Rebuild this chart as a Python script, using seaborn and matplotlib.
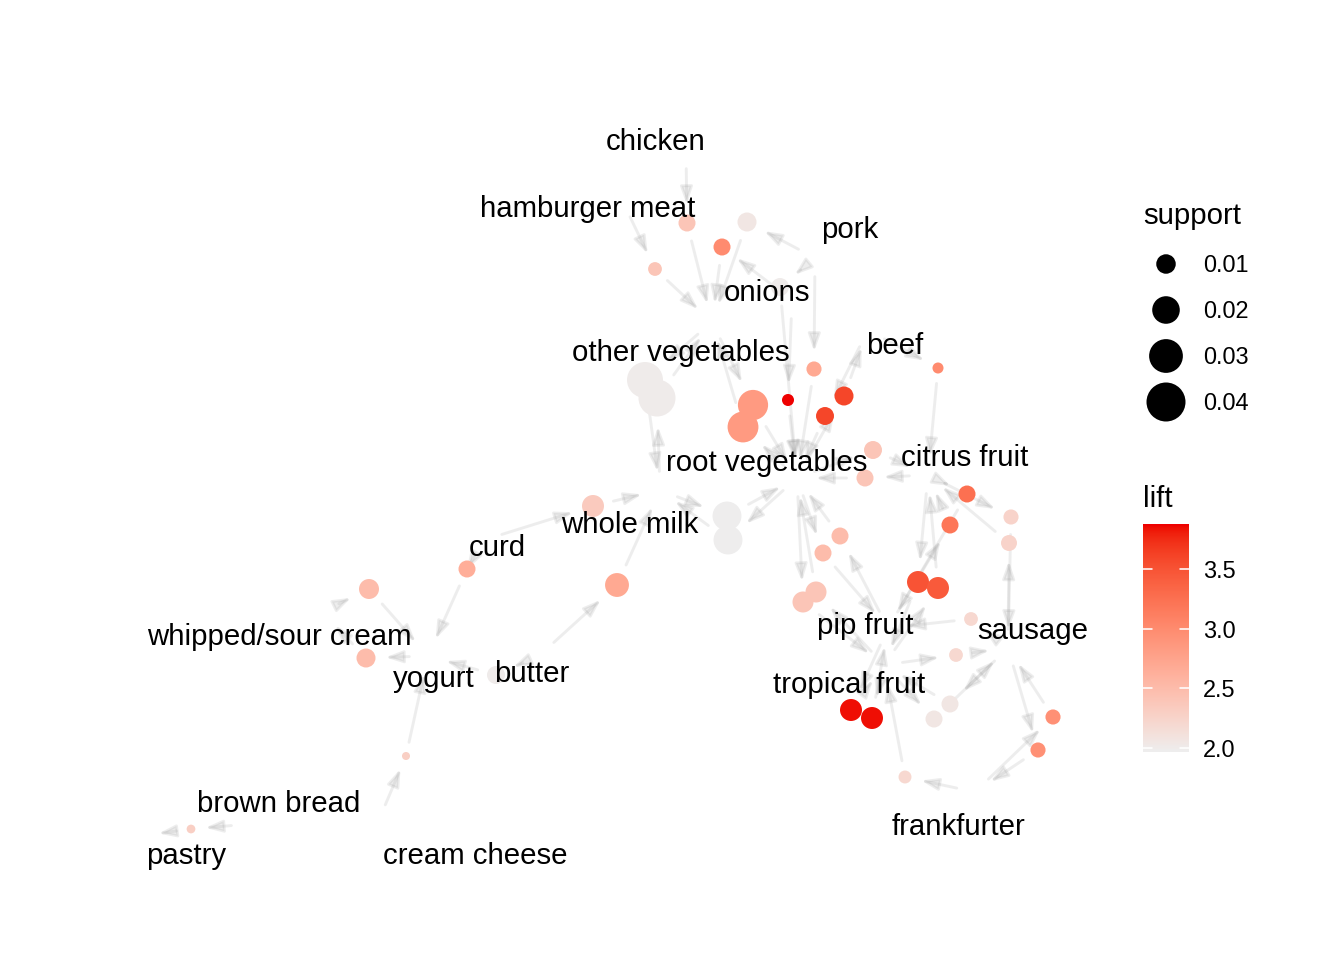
import numpy as np
import pandas as pd
import matplotlib
matplotlib.use("Agg")
import matplotlib.pyplot as plt
import seaborn as sns
from matplotlib.patches import FancyArrowPatch, ArrowStyle
from matplotlib.colors import ListedColormap, Normalize

# ---------------- data ----------------
item_names = ["chicken", "hamburger meat", "pork", "onions", "other vegetables",
              "beef", "root vegetables", "citrus fruit", "whole milk", "curd",
              "whipped/sour cream", "yogurt", "butter", "brown bread", "pastry",
              "cream cheese", "pip fruit", "tropical fruit", "sausage", "frankfurter"]
# graph layout of item nodes
item_x = [686, 622, 815, 792, 712, 868, 797, 928, 660, 484, 322, 428, 540, 250, 140, 378, 888, 884, 1008, 975]
item_y = [150, 200, 258, 300, 322, 330, 478, 475, 490, 540, 612, 656, 655, 824, 836, 822, 628, 665, 648, 792]
# repelled label layout
label_x = [656, 588, 850, 767, 681, 895, 767, 965, 630, 497, 279, 434, 532, 279, 186, 475, 865, 849, 1033, 958]
label_y = [142, 209, 230, 293, 353, 346, 463, 458, 525, 548, 637, 679, 674, 804, 856, 856, 626, 685, 631, 827]

# rule nodes: layout, support, lift, lhs -> rhs
rule_x = [687, 747, 722, 655, 780, 645, 657, 753, 743, 788, 814, 844, 825, 938, 873,
          865, 593, 727, 728, 467, 369, 366, 617, 496, 406, 191, 967, 950, 1011, 1009,
          840, 823, 816, 803, 918, 938, 971, 956, 851, 872, 950, 934, 1053, 1038, 905]
rule_y = [223, 222, 247, 269, 287, 380, 398, 405, 427, 400, 369, 396, 416, 368, 450,
          478, 506, 516, 540, 569, 589, 658, 585, 675, 756, 829, 494, 525, 517, 543,
          536, 553, 592, 602, 582, 588, 619, 655, 710, 718, 704, 719, 717, 750, 777]
rule_support = [0.0076, 0.0095, 0.0076, 0.0050, 0.0085, 0.0340, 0.0360, 0.0240, 0.0250, 0.0038,
                0.0060, 0.0095, 0.0085, 0.0032, 0.0085, 0.0076, 0.0127, 0.0220, 0.0220, 0.0076,
                0.0105, 0.0095, 0.0150, 0.0085, 0.0017, 0.0020, 0.0076, 0.0076, 0.0060, 0.0067,
                0.0076, 0.0076, 0.0116, 0.0116, 0.0127, 0.0127, 0.0050, 0.0050, 0.0127, 0.0127,
                0.0076, 0.0076, 0.0060, 0.0060, 0.0044]
rule_lift = [2.40, 2.05, 3.00, 2.40, 2.00, 2.00, 2.00, 2.85, 2.85, 3.88,
             2.70, 3.60, 3.60, 3.00, 2.40, 2.40, 2.35, 1.98, 1.98, 2.65,
             2.50, 2.50, 2.70, 2.00, 2.30, 2.30, 3.25, 3.20, 2.25, 2.25,
             2.50, 2.50, 2.40, 2.40, 3.50, 3.45, 2.20, 2.20, 3.85, 3.85,
             2.05, 2.05, 2.95, 2.95, 2.20]
rule_lhs = ["chicken", "pork", "onions", "hamburger meat", "pork", "other vegetables", "whole milk",
            "other vegetables", "root vegetables", "onions", "pork", "root vegetables", "beef", "beef",
            "root vegetables", "citrus fruit", "curd", "whole milk", "root vegetables", "curd",
            "whipped/sour cream", "yogurt", "butter", "butter", "cream cheese", "brown bread",
            "citrus fruit", "pip fruit", "citrus fruit", "sausage", "pip fruit", "root vegetables",
            "tropical fruit", "root vegetables", "citrus fruit", "tropical fruit", "sausage",
            "tropical fruit", "pip fruit", "tropical fruit", "sausage", "tropical fruit",
            "frankfurter", "sausage", "frankfurter"]
rule_rhs = ["other vegetables", "other vegetables", "other vegetables", "other vegetables",
            "root vegetables", "whole milk", "other vegetables", "root vegetables", "other vegetables",
            "root vegetables", "root vegetables", "beef", "root vegetables", "citrus fruit",
            "citrus fruit", "root vegetables", "whole milk", "root vegetables", "whole milk", "yogurt",
            "yogurt", "whipped/sour cream", "whole milk", "yogurt", "yogurt", "pastry", "pip fruit",
            "citrus fruit", "sausage", "citrus fruit", "root vegetables", "pip fruit",
            "root vegetables", "tropical fruit", "tropical fruit", "citrus fruit", "pip fruit",
            "sausage", "tropical fruit", "pip fruit", "tropical fruit", "sausage", "sausage",
            "frankfurter", "tropical fruit"]

support_breaks = [0.01, 0.02, 0.03, 0.04]
lift_breaks = [2.0, 2.5, 3.0, 3.5]
lift_limits = (1.966, 3.877)

# ---------------- colour scale (Lab interpolation like ggplot) ----------------
_M = np.array([[0.4124, 0.3576, 0.1805], [0.2126, 0.7152, 0.0722], [0.0193, 0.1192, 0.9505]])
_W = np.array([0.95047, 1.0, 1.08883])

def _to_lab(rgb):
    c = np.asarray(rgb, float)
    c = np.where(c <= 0.04045, c / 12.92, ((c + 0.055) / 1.055) ** 2.4)
    xyz = _M @ c / _W
    f = np.where(xyz > 0.008856, np.cbrt(xyz), 7.787 * xyz + 16 / 116)
    return np.array([116 * f[1] - 16, 500 * (f[0] - f[1]), 200 * (f[1] - f[2])])

def _from_lab(lab):
    L, a, b = lab
    fy = (L + 16) / 116
    f = np.array([fy + a / 500, fy, fy - b / 200])
    xyz = np.where(f ** 3 > 0.008856, f ** 3, (f - 16 / 116) / 7.787) * _W
    c = np.clip(np.linalg.inv(_M) @ xyz, 0, 1)
    c = np.where(c <= 0.0031308, 12.92 * c, 1.055 * np.power(c, 1 / 2.4) - 0.055)
    return np.clip(c, 0, 1)

lo_lab = _to_lab(np.array([0xEE, 0xEE, 0xEE]) / 255)
hi_lab = _to_lab(np.array([0xEE, 0x00, 0x00]) / 255)
cmap = ListedColormap([_from_lab(lo_lab + t * (hi_lab - lo_lab)) for t in np.linspace(0, 1, 256)])
lift_norm = Normalize(*lift_limits)

# ---------------- figure ----------------
sns.set_theme(style="white")
plt.rcParams["font.family"] = ["Liberation Sans", "DejaVu Sans"]
plt.rcParams["text.color"] = "black"

DPI = 192
fig = plt.figure(figsize=(7, 5), dpi=DPI)
ax = fig.add_axes([0, 0, 1, 1])
ax.set_xlim(0, 1344)
ax.set_ylim(960, 0)
ax.axis("off")

S_PER_SUPPORT = 5348.0   # marker area (pt^2) per unit support
def diam_px(s):
    return np.sqrt(S_PER_SUPPORT * s) * DPI / 72

item_pos = {n: (x, y) for n, x, y in zip(item_names, item_x, item_y)}
style = ArrowStyle("-|>", head_length=5.4, head_width=1.9)
ITEM_GAP = 7.0
def add_edge(a, b, sa, sb):
    p = FancyArrowPatch(a, b, arrowstyle=style, mutation_scale=1, shrinkA=sa, shrinkB=sb,
                        lw=1.1, color="#9a9a9a", alpha=0.17, zorder=1)
    ax.add_patch(p)

for i in range(len(rule_x)):
    rp = (rule_x[i], rule_y[i])
    rgap = (diam_px(rule_support[i]) / 2 + 10) * 72 / DPI
    add_edge(item_pos[rule_lhs[i]], rp, ITEM_GAP, rgap)
    add_edge(rp, item_pos[rule_rhs[i]], rgap, ITEM_GAP)

rules = pd.DataFrame({"x": rule_x, "y": rule_y, "support": rule_support, "lift": rule_lift})
sns.scatterplot(data=rules, x="x", y="y", hue="lift", size="support", palette=cmap,
                hue_norm=lift_norm, sizes=(0, S_PER_SUPPORT * 0.04), size_norm=(0, 0.04),
                linewidth=0, legend=False, ax=ax, zorder=3)
ax.set_xlabel("")
ax.set_ylabel("")

for n, x, y in zip(item_names, label_x, label_y):
    ax.text(x, y, n, fontsize=11, ha="center", va="center", color="black", zorder=4)

# ---------------- legends ----------------
ax.text(1143, 216, "support", fontsize=11, ha="left", va="center", color="black")
leg_y = [264, 310, 356, 402]
ax.scatter([1166] * 4, leg_y, s=[S_PER_SUPPORT * v for v in support_breaks], color="black",
           linewidths=0, zorder=3)
for v, y in zip(support_breaks, leg_y):
    ax.text(1203, y + 1, f"{v:.2f}", fontsize=8.8, ha="left", va="center", color="black")

ax.text(1143, 499, "lift", fontsize=11, ha="left", va="center", color="black")
cax = fig.add_axes([1143 / 1344, (960 - 752) / 960, 46 / 1344, 228 / 960])
grad = np.linspace(lift_limits[0], lift_limits[1], 300).reshape(-1, 1)
cax.imshow(grad, aspect="auto", cmap=cmap, norm=lift_norm, origin="lower",
           extent=[0, 1, lift_limits[0], lift_limits[1]])
for v in lift_breaks:
    cax.plot([0, 0.2], [v, v], color="white", lw=0.6)
    cax.plot([0.8, 1], [v, v], color="white", lw=0.6)
cax.set_xlim(0, 1)
cax.set_ylim(*lift_limits)
cax.set_xticks([])
cax.set_yticks(lift_breaks)
cax.set_yticklabels([f"{v:.1f}" for v in lift_breaks])
cax.yaxis.tick_right()
cax.tick_params(axis="y", length=0, pad=5.2, labelsize=8.8, colors="black")
for s in cax.spines.values():
    s.set_visible(False)

fig.savefig("out.png", dpi=DPI, facecolor="white")
